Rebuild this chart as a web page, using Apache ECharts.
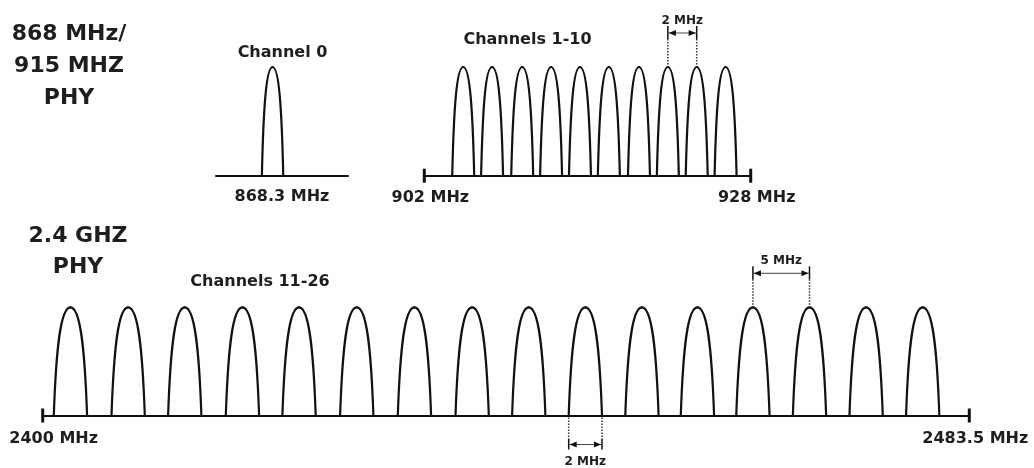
<!DOCTYPE html>
<html>
<head>
<meta charset="utf-8">
<title>IEEE 802.15.4 channels</title>
<script src="https://cdn.jsdelivr.net/npm/echarts@6/dist/echarts.min.js"></script>
<style>
html, body { margin: 0; padding: 0; background: #fff; }
#chart { width: 1034px; height: 468px; }
</style>
</head>
<body>
<div id="chart"></div>
<script>
// channel centre positions as drawn (MHz on each panel's own axis)
const ch0Center = [868.3];
const ch1to10Centers = [905.1, 907.4, 909.8, 912.1, 914.4, 916.7, 919.1, 921.4, 923.7, 926.0];
const ch11to26Centers = [2402.5, 2407.7, 2412.8, 2418.0, 2423.1, 2428.3, 2433.5, 2438.7,
	2443.8, 2448.9, 2454.0, 2459.0, 2464.0, 2469.1, 2474.2, 2479.3];
// base width of one channel lobe, per panel
const lobeWidths = [1.7, 1.75, 3.0];
// axis ranges / end ticks
const lowRange = [863.8, 874.3];
const midEnds = [902, 928];
const highEnds = [2400, 2483.5];
const spacingLabels = ["2 MHz", "5 MHz", "2 MHz"];

const INK = "#111";
const TXT = "#1e1e1e";
const FONT = '"DejaVu Sans", sans-serif';

function renderLobe(params, api) {
	const c = api.value(0), w = api.value(1), h = api.value(2);
	const pl = api.coord([c - w / 2, 0]);
	const pr = api.coord([c + w / 2, 0]);
	const pt = api.coord([c, h]);
	const W = pr[0] - pl[0], H = pl[1] - pt[1];
	const st = {stroke: INK, lineWidth: 2.2, fill: null, lineCap: "round"};
	return {
		type: "group",
		children: [
			{type: "bezierCurve", shape: {x1: pl[0], y1: pl[1], cpx1: pl[0] + 0.07 * W, cpy1: pl[1] - 0.62 * H,
				cpx2: pt[0] - 0.3 * W, cpy2: pt[1], x2: pt[0], y2: pt[1]}, style: st},
			{type: "bezierCurve", shape: {x1: pt[0], y1: pt[1], cpx1: pt[0] + 0.3 * W, cpy1: pt[1],
				cpx2: pr[0] - 0.07 * W, cpy2: pr[1] - 0.62 * H, x2: pr[0], y2: pr[1]}, style: st}
		]
	};
}

function renderEnd(params, api) {
	const p = api.coord([api.value(0), 0]);
	return {type: "line", shape: {x1: p[0], y1: p[1] - 7, x2: p[0], y2: p[1] + 7},
		style: {stroke: INK, lineWidth: 3}};
}

function arrowHeads(xa, xb, y) {
	return [
		{type: "line", shape: {x1: xa, y1: y, x2: xb, y2: y}, style: {stroke: "#444", lineWidth: 1}},
		{type: "polygon", shape: {points: [[xa + 1, y], [xa + 8, y - 3], [xa + 8, y + 3]]}, style: {fill: INK}},
		{type: "polygon", shape: {points: [[xb - 1, y], [xb - 8, y - 3], [xb - 8, y + 3]]}, style: {fill: INK}}
	];
}

function makeSpacing(label) {
	return function (params, api) {
		const a = api.coord([api.value(0), api.value(2)]);
		const b = api.coord([api.value(1), api.value(2)]);
		const top = a[1] - 41;
		const dot = {stroke: "#333", lineWidth: 1.5, lineDash: [1.5, 1.5]};
		const solid = {stroke: INK, lineWidth: 1.5};
		const kids = [];
		[a[0], b[0]].forEach(x => {
			kids.push({type: "line", shape: {x1: x, y1: top + 13, x2: x, y2: a[1] - 2}, style: dot});
			kids.push({type: "line", shape: {x1: x, y1: top, x2: x, y2: top + 13}, style: solid});
		});
		kids.push(...arrowHeads(a[0], b[0], a[1] - 34));
		kids.push({type: "text", style: {text: label, x: (a[0] + b[0]) / 2, y: a[1] - 46,
			align: "center", verticalAlign: "middle", font: "bold 12px " + FONT, fill: TXT}});
		return {type: "group", children: kids};
	};
}

function makeWidth(label) {
	return function (params, api) {
		const a = api.coord([api.value(0), 0]);
		const b = api.coord([api.value(1), 0]);
		const base = a[1];
		const dot = {stroke: "#333", lineWidth: 1.5, lineDash: [1.5, 1.5]};
		const solid = {stroke: INK, lineWidth: 1.5};
		const kids = [];
		[a[0], b[0]].forEach(x => {
			kids.push({type: "line", shape: {x1: x, y1: base + 2, x2: x, y2: base + 23}, style: dot});
			kids.push({type: "line", shape: {x1: x, y1: base + 23, x2: x, y2: base + 34}, style: solid});
		});
		kids.push(...arrowHeads(a[0], b[0], base + 29));
		kids.push({type: "text", style: {text: label, x: (a[0] + b[0]) / 2, y: base + 46,
			align: "center", verticalAlign: "middle", font: "bold 12px " + FONT, fill: TXT}});
		return {type: "group", children: kids};
	};
}

const labelFont = {fontSize: 16, fontWeight: "bold", fontFamily: FONT, color: TXT};

function baseAxis(idx, min, max) {
	return {
		gridIndex: idx, type: "value", min: min, max: max,
		axisLine: {show: true, onZero: false, lineStyle: {color: INK, width: 2}},
		axisTick: {show: false},
		axisLabel: {show: false},
		splitLine: {show: false}
	};
}

const chart = echarts.init(document.getElementById("chart"));

const xLow = baseAxis(0, lowRange[0], lowRange[1]);
xLow.name = ch0Center[0] + " MHz";
xLow.nameLocation = "middle";
xLow.nameGap = 13;
xLow.nameTextStyle = labelFont;

const xMid = baseAxis(1, midEnds[0], midEnds[1]);
xMid.axisLabel = {
	show: true, customValues: midEnds, margin: 14,
	formatter: v => "{a|" + v + " MHz}",
	rich: {a: Object.assign({padding: [0, 0, 0, 12]}, labelFont)}
};

const xHigh = baseAxis(2, highEnds[0], highEnds[1]);
xHigh.axisLabel = {
	show: true, customValues: highEnds, margin: 15,
	formatter: v => (v === highEnds[0] ? "{l|" : "{r|") + v + " MHz}",
	rich: {
		l: Object.assign({padding: [0, 0, 0, 22]}, labelFont),
		r: Object.assign({padding: [0, 0, 0, 12]}, labelFont)
	}
};

const yAx = i => ({gridIndex: i, type: "value", min: 0, max: 1, show: false});

const option = {
	backgroundColor: "#fff",
	animation: false,
	grid: [
		{left: 216, width: 132, top: 67, height: 108.7, outerBoundsMode: "none"},
		{left: 424.3, width: 326.4, top: 67, height: 108.7, outerBoundsMode: "none"},
		{left: 42.7, width: 926.6, top: 307.3, height: 108.2, outerBoundsMode: "none"}
	],
	xAxis: [xLow, xMid, xHigh],
	yAxis: [yAx(0), yAx(1), yAx(2)],
	graphic: [
		{type: "text", x: 69, y: 66, style: {text: "868 MHz/\n915 MHZ\nPHY", align: "center", verticalAlign: "middle",
			font: "bold 22px " + FONT, lineHeight: 32, fill: TXT}},
		{type: "text", x: 78, y: 252, style: {text: "2.4 GHZ\nPHY", align: "center", verticalAlign: "middle",
			font: "bold 22px " + FONT, lineHeight: 31.5, fill: TXT}},
		{type: "text", x: 282.5, y: 52.5, style: {text: "Channel 0", align: "center", verticalAlign: "middle",
			font: "bold 16px " + FONT, fill: TXT}},
		{type: "text", x: 527.5, y: 40, style: {text: "Channels 1-10", align: "center", verticalAlign: "middle",
			font: "bold 16px " + FONT, fill: TXT}},
		{type: "text", x: 260, y: 281.5, style: {text: "Channels 11-26", align: "center", verticalAlign: "middle",
			font: "bold 16px " + FONT, fill: TXT}}
	],
	series: [
		{type: "custom", xAxisIndex: 0, yAxisIndex: 0, clip: false, silent: true,
			data: ch0Center.map(c => [c, lobeWidths[0], 1]), renderItem: renderLobe},
		{type: "custom", xAxisIndex: 1, yAxisIndex: 1, clip: false, silent: true,
			data: ch1to10Centers.map(c => [c, lobeWidths[1], 1]), renderItem: renderLobe},
		{type: "custom", xAxisIndex: 2, yAxisIndex: 2, clip: false, silent: true,
			data: ch11to26Centers.map(c => [c, lobeWidths[2], 1]), renderItem: renderLobe},
		{type: "custom", xAxisIndex: 1, yAxisIndex: 1, clip: false, silent: true,
			data: midEnds.map(v => [v]), renderItem: renderEnd},
		{type: "custom", xAxisIndex: 2, yAxisIndex: 2, clip: false, silent: true,
			data: highEnds.map(v => [v]), renderItem: renderEnd},
		{type: "custom", xAxisIndex: 1, yAxisIndex: 1, clip: false, silent: true,
			data: [[ch1to10Centers[7], ch1to10Centers[8], 1]], renderItem: makeSpacing(spacingLabels[0])},
		{type: "custom", xAxisIndex: 2, yAxisIndex: 2, clip: false, silent: true,
			data: [[ch11to26Centers[12], ch11to26Centers[13], 1]], renderItem: makeSpacing(spacingLabels[1])},
		{type: "custom", xAxisIndex: 2, yAxisIndex: 2, clip: false, silent: true,
			data: [[ch11to26Centers[9] - lobeWidths[2] / 2, ch11to26Centers[9] + lobeWidths[2] / 2]],
			renderItem: makeWidth(spacingLabels[2])}
	]
};

chart.setOption(option);
</script>
</body>
</html>
